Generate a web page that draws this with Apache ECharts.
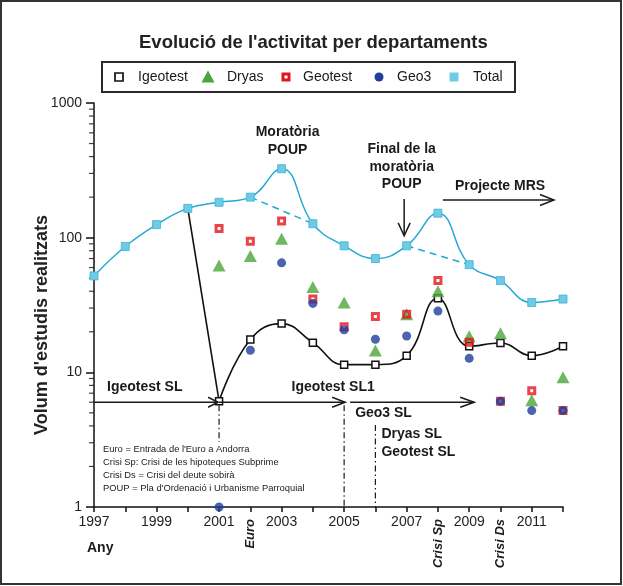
<!DOCTYPE html>
<html>
<head>
<meta charset="utf-8">
<script src="https://cdn.jsdelivr.net/npm/echarts@6/dist/echarts.min.js"></script>
<style>
  html, body { margin: 0; padding: 0; background: #fff; }
  #c { width: 623px; height: 586px; }
</style>
</head>
<body>
<div id="c"></div>
<script>
// ---------------- DATA ----------------
const years        = [1997, 1998, 1999, 2000, 2001, 2002, 2003, 2004, 2005, 2006, 2007, 2008, 2009, 2010, 2011, 2012];
const totalVals    = [52, 86, 125, 165, 183, 200, 325, 127, 87, 70, 87, 152, 63, 48, 33, 35];
const igeotestVals = [null, null, null, null, 6.1, 17.5, 23, 16.6, 11.4, 11.4, 13.3, 35.5, 15.6, 16.5, 13.3, 15.6];
const dryasVals    = [null, null, null, null, 62, 73, 98, 43, 33, 14.5, 27, 40, 18.5, 19.5, 6.2, 9.2];
const geotestVals  = [null, null, null, null, 117, 94, 133, 35, 21.8, 26, 27, 48, 16.7, 6.1, 7.3, 5.2];
const geo3Vals     = [null, null, null, null, 1, 14.6, 65, 32.5, 20.7, 17.6, 18.6, 28.5, 12.7, 6.1, 5.2, 5.2];
// dashed Total trend skipping the peaks (start year, end year)
const trendSpans   = [[2002, 2004], [2007, 2009]];
// Igeotest curve branches off the Total curve in this year
const igeotestBranchYear = 2000;
const seriesNames  = ['Igeotest', 'Dryas', 'Geotest', 'Geo3', 'Total'];
const xLabelYears  = [1997, 1999, 2001, 2003, 2005, 2007, 2009, 2011];
const yDecades     = [1, 10, 100];
const minorSteps   = [2, 3, 4, 5, 6, 7, 8, 9];
const eventLabels  = [['Euro', 2002], ['Crisi Sp', 2008], ['Crisi Ds', 2010]];
const yAxisTitle   = "Volum d'estudis realitzats";
const xAxisTitle   = 'Any';
const notes = [
  "Euro = Entrada de l'Euro a Andorra",
  "Crisi Sp: Crisi de les hipoteques Subprime",
  "Crisi Ds = Crisi del deute sobirà",
  "POUP = Pla d'Ordenació i Urbanisme Parroquial"
];

// ---------------- CHART ----------------
const FONT = "'Liberation Sans', Arial, Helvetica, sans-serif";
const INK = '#1a1a1a';
const C = { igeo: '#111111', dryas: '#4aa63a', geotest: '#e5141b', geo3: '#1f3d99',
            totalLine: '#22a9d3', totalFill: '#6fcae4', totalBorder: '#3ab2da' };
const pairs = arr => years.map((y, i) => arr[i] == null ? null : [y, arr[i]]).filter(Boolean);
const valAt = (arr, yr) => arr[years.indexOf(yr)];

const trendData = [];
trendSpans.forEach((s, k) => {
  if (k > 0) trendData.push([(trendSpans[k - 1][1] + s[0]) / 2, '-']);
  trendData.push([s[0], valAt(totalVals, s[0])]);
  trendData.push([s[1], valAt(totalVals, s[1])]);
});

const firstIgeo = years.find((y, i) => igeotestVals[i] != null);
const branchData = [[igeotestBranchYear, valAt(totalVals, igeotestBranchYear)], [firstIgeo, valAt(igeotestVals, firstIgeo)]];

const minorData = [];
yDecades.forEach(d => minorSteps.forEach(m => minorData.push([years[0], d * m])));

const GEOTEST_SYM = 'path://M0,0H10V10H0ZM3.3,3.3V6.7H6.7V3.3Z';

const chart = echarts.init(document.getElementById('c'), null, { renderer: 'canvas' });

const option = {
  animation: false,
  backgroundColor: '#fff',
  textStyle: { fontFamily: FONT },
  title: {
    text: "Evolució de l'activitat per departaments",
    left: 139, top: 33, padding: 0,
    textStyle: { fontSize: 18.5, fontWeight: 'bold', color: '#222', fontFamily: FONT }
  },
  grid: { left: 94, right: 60, top: 103, bottom: 79, containLabel: false, outerBoundsMode: 'none' },
  xAxis: {
    type: 'value', min: 1997, max: 2012, interval: 1,
    axisLine: { show: true, onZero: false, lineStyle: { color: '#111', width: 1.5 } },
    axisTick: { show: true, inside: false, length: 5, lineStyle: { color: '#111', width: 1.5 } },
    axisLabel: { show: true, margin: 8, fontSize: 14, color: '#222', fontFamily: FONT,
      formatter: v => xLabelYears.indexOf(Math.round(v)) >= 0 ? String(Math.round(v)) : '' },
    splitLine: { show: false }
  },
  yAxis: {
    type: 'log', logBase: 10, min: 1, max: 1000,
    axisLine: { show: true, lineStyle: { color: '#111', width: 1.5 } },
    axisTick: { show: true, inside: false, length: 8, lineStyle: { color: '#111', width: 1.5 } },
    axisLabel: { show: true, margin: 12, fontSize: 14, color: '#222', fontFamily: FONT,
      formatter: v => String(Math.round(v)) },
    splitLine: { show: false }
  },
  series: [
    { name: 'TotalTrend', type: 'line', data: trendData, symbol: 'none', silent: true, z: 2,
      lineStyle: { color: C.totalLine, width: 1.5, type: [7, 5] } },
    { name: 'IgeotestBranch', type: 'line', data: branchData, symbol: 'none', silent: true, z: 2,
      lineStyle: { color: C.igeo, width: 1.6 } },
    { name: seriesNames[0], type: 'line', data: pairs(igeotestVals), smooth: 0.45, z: 3,
      symbol: 'rect', symbolSize: 7,
      itemStyle: { color: '#fff', borderColor: C.igeo, borderWidth: 1.5 },
      lineStyle: { color: C.igeo, width: 1.6 } },
    { name: seriesNames[4], type: 'line', data: pairs(totalVals), smooth: 0.45, z: 4,
      symbol: 'rect', symbolSize: 8,
      itemStyle: { color: C.totalFill, borderColor: C.totalBorder, borderWidth: 0.8 },
      lineStyle: { color: C.totalLine, width: 1.5 } },
    { name: seriesNames[1], type: 'scatter', data: pairs(dryasVals), z: 5,
      symbol: 'triangle', symbolSize: [13, 12], itemStyle: { color: C.dryas } },
    { name: seriesNames[2], type: 'scatter', data: pairs(geotestVals), z: 6,
      symbol: GEOTEST_SYM, symbolSize: 9, itemStyle: { color: C.geotest } },
    { name: seriesNames[3], type: 'scatter', data: pairs(geo3Vals), z: 7, clip: false,
      symbol: 'circle', symbolSize: 9, itemStyle: { color: C.geo3 } },
    { name: 'minorTicks', type: 'scatter', data: minorData, silent: true, clip: false, z: 1,
      symbol: 'rect', symbolSize: [5, 1.2], symbolOffset: [-2.5, 0], itemStyle: { color: '#111' } }
  ]
};
chart.setOption(option);

// ---------------- ANNOTATIONS ----------------
const P = (x, y) => chart.convertToPixel({ gridIndex: 0 }, [x, y]);
const px = x => P(x, 10)[0];
const py = v => P(1997, v)[1];

const g = [];
const txt = (t, x, y, o) => g.push(Object.assign({ type: 'text', x: x, y: y, silent: true, z: 50,
  style: Object.assign({ text: t, fill: INK, fontSize: 14, fontWeight: 'bold', fontFamily: FONT,
    align: 'left', verticalAlign: 'middle' }, (o && o.style) || {}) }, o ? { rotation: o.rotation || 0 } : {}));
const line = (x1, y1, x2, y2, extra) => g.push({ type: 'line', silent: true, z: 50,
  shape: { x1, y1, x2, y2 }, style: Object.assign({ stroke: INK, lineWidth: 1.5 }, extra || {}) });
const headRight = (tx, ty, len, h) => g.push({ type: 'polyline', silent: true, z: 50,
  shape: { points: [[tx - len, ty - h], [tx, ty], [tx - len, ty + h]] }, style: { stroke: INK, lineWidth: 1.5, fill: null } });
const headDown = (tx, ty, len, h) => g.push({ type: 'polyline', silent: true, z: 50,
  shape: { points: [[tx - h, ty - len], [tx, ty], [tx + h, ty - len]] }, style: { stroke: INK, lineWidth: 1.5, fill: null } });

// legend (box + icons + names)
const LY = 77;
g.push({ type: 'rect', silent: true, z: 40, shape: { x: 102, y: 62, width: 413, height: 30 },
  style: { fill: '#fff', stroke: '#2a2a2a', lineWidth: 2 } });
const legendPos = [[119, 138], [208, 227], [286, 303], [379, 397], [454, 473]];
g.push({ type: 'rect', silent: true, z: 41, shape: { x: legendPos[0][0] - 4, y: LY - 4, width: 8, height: 8 },
  style: { fill: '#fff', stroke: C.igeo, lineWidth: 1.7 } });
g.push({ type: 'polygon', silent: true, z: 41,
  shape: { points: [[legendPos[1][0], LY - 6.5], [legendPos[1][0] + 6.5, LY + 5.5], [legendPos[1][0] - 6.5, LY + 5.5]] },
  style: { fill: C.dryas } });
g.push({ type: 'rect', silent: true, z: 41, shape: { x: legendPos[2][0] - 3, y: LY - 3, width: 6, height: 6 },
  style: { fill: '#fff', stroke: C.geotest, lineWidth: 3 } });
g.push({ type: 'circle', silent: true, z: 41, shape: { cx: legendPos[3][0], cy: LY, r: 4.5 }, style: { fill: C.geo3 } });
g.push({ type: 'rect', silent: true, z: 41, shape: { x: legendPos[4][0] - 4.5, y: LY - 4.5, width: 9, height: 9 },
  style: { fill: C.totalFill } });
seriesNames.forEach((n, i) => txt(n, legendPos[i][1], LY, { style: { fontWeight: 'normal', fill: '#1a1a1a' } }));

// axis titles
txt(yAxisTitle, 42, 325, { rotation: Math.PI / 2, style: { align: 'center', fontSize: 18, fill: '#222' } });
txt(xAxisTitle, 87, 548);

const dashDot = { lineWidth: 1.2, lineDash: [6, 3, 1.5, 3] };
const arrowY = py(valAt(igeotestVals, 2001)) + 1;
const yBottom = py(1);

// company timeline arrows
line(px(1997), arrowY, px(2001) - 1, arrowY); headRight(px(2001) - 1, arrowY, 10, 5);
line(px(2001), arrowY, px(2005) + 1, arrowY); headRight(px(2005) + 1, arrowY, 13, 5);
line(px(2005) + 6, arrowY, px(2009) + 5, arrowY); headRight(px(2009) + 5, arrowY, 14, 5);
// dash-dot verticals
line(px(2001), arrowY + 3, px(2001), 442, dashDot);
line(px(2005), arrowY + 3, px(2005), yBottom, dashDot);
line(px(2006), 425, px(2006), yBottom, dashDot);

txt('Igeotest SL', 107, 387);
txt('Igeotest SL1', px(2005) - 11, 387, { style: { align: 'center' } });
txt('Geo3 SL', px(2005) + 11, 413);
txt('Dryas SL\nGeotest SL', px(2006) + 6, 443, { style: { lineHeight: 18 } });

// top annotations
txt('Moratòria\nPOUP', px(2003) + 6, 141, { style: { align: 'center', lineHeight: 18 } });
txt('Final de la\nmoratòria\nPOUP', px(2007) - 5, 167, { style: { align: 'center', lineHeight: 17.5 } });
const downX = px(2007) - 2.5, downTip = py(valAt(totalVals, 2007)) - 10;
line(downX, 199, downX, downTip); headDown(downX, downTip, 13, 6);
txt('Projecte MRS', 500, 186, { style: { align: 'center' } });
line(px(2008) + 5, 200, px(2012) - 9, 200); headRight(px(2012) - 9, 200, 14, 5.5);

// notes
notes.forEach((n, i) => txt(n, 103, 449 + i * 13, { style: { fontSize: 9.4, fontWeight: 'normal', fill: '#222' } }));

// rotated event labels under the axis
eventLabels.forEach(e => txt(e[0], px(e[1]), yBottom + 12, {
  rotation: Math.PI / 2,
  style: { align: 'right', verticalAlign: 'middle', fontSize: 13, fontStyle: 'italic' }
}));

// outer frame
g.push({ type: 'rect', silent: true, z: 100, shape: { x: 1, y: 1, width: 620, height: 583 },
  style: { fill: null, stroke: '#333', lineWidth: 2 } });

chart.setOption({ graphic: g });
</script>
</body>
</html>
